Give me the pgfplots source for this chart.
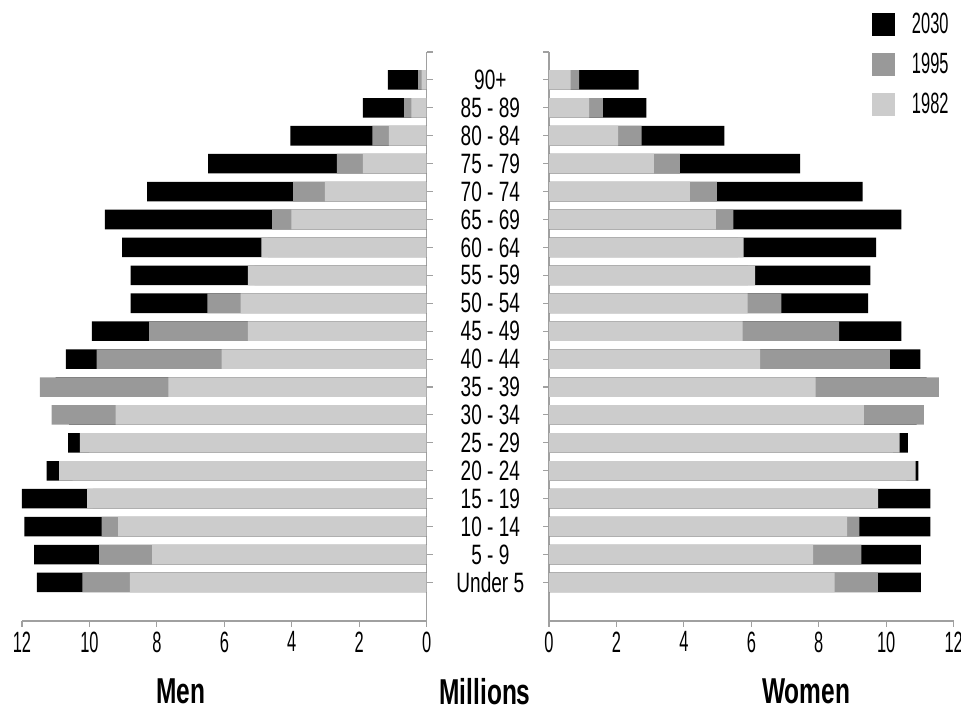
\documentclass[border=0pt]{standalone}
\usepackage{pgfplots}
\usepackage{pgfplotstable}
\pgfplotsset{compat=1.18}
\usepackage{fontspec}
\setmainfont{Liberation Sans}
\newfontfamily\tickf{Liberation Sans}[FakeStretch=0.56]
\newfontfamily\catf{Liberation Sans}[FakeStretch=0.68]
\newfontfamily\labf{Liberation Sans}[FakeStretch=0.68]
\definecolor{c1982}{HTML}{CCCCCC}
\definecolor{c1995}{HTML}{999999}
\definecolor{axgray}{HTML}{A0A0A0}

% idx: 0 = Under 5 ... 18 = 90+
\pgfplotstableread{
idx y1982 y1995 y2030
0  8.80 10.21 11.56
1  8.14  9.71 11.64
2  9.15  9.64 11.93
3 10.07  9.90 12.04
4 10.90 10.50 11.27
5 10.28 10.00 10.63
6  9.22 11.12 10.60
7  7.66 11.47 11.00
8  6.08  9.79 10.70
9  5.30  8.23  9.93
10 5.52  6.50  8.78
11 5.30  5.10  8.78
12 4.90  4.70  9.03
13 4.01  4.58  9.54
14 3.02  3.96  8.29
15 1.89  2.66  6.48
16 1.12  1.61  4.04
17 0.45  0.67  1.89
18 0.15  0.25  1.15
}\men

\pgfplotstableread{
idx y1982 y1995 y2030
0  8.47  9.75 11.03
1  7.83  9.26 11.03
2  8.84  9.20 11.31
3  9.76  9.60 11.31
4 10.87 10.60 10.95
5 10.40 10.20 10.64
6  9.34 11.12 10.90
7  7.91 11.56 11.20
8  6.26 10.11 11.01
9  5.74  8.60 10.45
10 5.89  6.89  9.46
11 6.11  5.90  9.53
12 5.77  5.60  9.70
13 4.95  5.47 10.45
14 4.18  4.98  9.30
15 3.11  3.88  7.45
16 2.05  2.75  5.20
17 1.19  1.60  2.89
18 0.64  0.89  2.66
}\women

\pgfplotsset{
  pyr/.style={
    scale only axis, anchor=south west,
    width=303.5pt, height=426.75pt,
    xbar, bar shift=0pt, bar width=0.70,
    xmin=0, xmax=12, ymin=-1.38, ymax=19,
    xtick={0,2,...,12}, ytick={0,...,19},
    axis x line*=bottom,
    axis line style={-, draw=axgray, line width=0.8pt},
    every tick/.style={draw=axgray, line width=0.8pt},
    major tick length=4.5pt, tick align=outside,
    /pgf/number format/assume math mode=true,
    xticklabel style={font=\tickf\fontsize{22}{22}\selectfont, text=black},
  }
}

\begin{document}
\begin{tikzpicture}[x=1pt,y=1pt]
\useasboundingbox (0,0) rectangle (720.75,532.5);

% Men
\begin{axis}[pyr, at={(16.5pt,66.75pt)}, x dir=reverse,
  axis y line*=right, yticklabels={}]
\addplot[fill=black, draw=none] table[x=y2030, y=idx] {\men};
\addplot[fill=c1995, draw=none] table[x=y1995, y=idx] {\men};
\addplot[fill=c1982, draw=none] table[x=y1982, y=idx] {\men};
\end{axis}

% Women
\begin{axis}[pyr, at={(411.75pt,66.75pt)},
  axis y line*=left,
  yticklabels={Under 5, 5 - 9, 10 - 14, 15 - 19, 20 - 24, 25 - 29, 30 - 34, 35 - 39, 40 - 44, 45 - 49, 50 - 54, 55 - 59, 60 - 64, 65 - 69, 70 - 74, 75 - 79, 80 - 84, 85 - 89, 90+, {}},
  yticklabel style={font=\catf\fontsize{21}{21}\selectfont, anchor=center, xshift=-39.5pt, text=black},
  legend style={at={(0.797,1.069)}, anchor=north west, draw=none, fill=none,
    inner sep=0pt, outer sep=0pt, row sep=12.4pt,
    font=\tickf\fontsize{22}{22}\selectfont,
    nodes={inner sep=0pt},
    /tikz/every odd column/.append style={column sep=12.75pt}},
  legend cell align=left,
  legend image code/.code={\fill[#1] (0pt,-8.8pt) rectangle (17.6pt,8.8pt);},
]
\addplot[fill=black, draw=none] table[x=y2030, y=idx] {\women};
\addplot[fill=c1995, draw=none] table[x=y1995, y=idx] {\women};
\addplot[fill=c1982, draw=none] table[x=y1982, y=idx] {\women};
\legend{2030,1995,1982}
\end{axis}

\node[inner sep=0pt, font=\labf\bfseries\fontsize{27}{27}\selectfont] at (135.4,14) {Men};
\node[inner sep=0pt, font=\labf\bfseries\fontsize{27}{27}\selectfont] at (363.75,14) {Millions};
\node[inner sep=0pt, font=\labf\bfseries\fontsize{27}{27}\selectfont] at (604.5,14) {Women};
\end{tikzpicture}
\end{document}
